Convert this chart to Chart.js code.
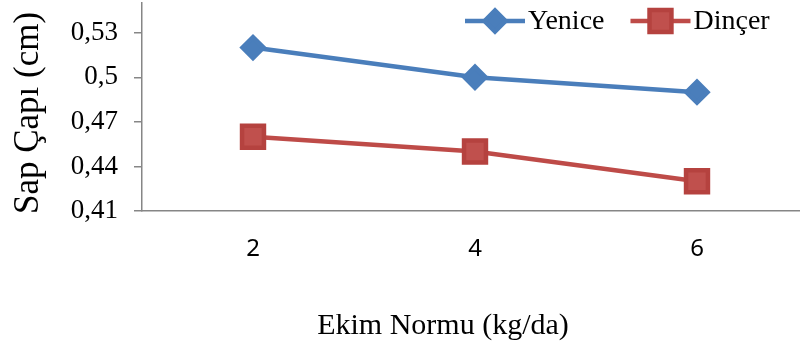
<!DOCTYPE html>
<html>
<head>
<meta charset="utf-8">
<script src="https://cdn.jsdelivr.net/npm/chart.js@4"></script>
<style>
  html, body { margin: 0; padding: 0; background: #fff; overflow: hidden; }
  #wrap { position: relative; width: 810px; height: 345px; }
</style>
</head>
<body>
<div id="wrap"><canvas id="sapChart"></canvas></div>
<script>
// Ekim normu (kg/da) categories
const ekimNormu = ['2', '4', '6'];
// Sap çapı (cm) per variety
const yenice = [0.52, 0.50, 0.49];
const dincer = [0.46, 0.45, 0.43];
// y axis tick values
const yTicks = [0.41, 0.44, 0.47, 0.50, 0.53];
const xTitle = 'Ekim Normu (kg/da)';
const yTitle = 'Sap Çapı (cm)';

const serif = '"Liberation Serif", "Times New Roman", serif';
const axisGray = '#868686';

// legend (line + marker + label) over the top right of the plot, plus axis titles
const extras = {
    id: 'extras',
    afterDraw(chart) {
        const ctx = chart.ctx;
        ctx.save();
        ctx.font = '28px ' + serif;
        ctx.textBaseline = 'middle';
        ctx.textAlign = 'left';
        let x = 465;
        const y = 21;
        chart.data.datasets.forEach(ds => {
            ctx.strokeStyle = ds.borderColor;
            ctx.lineWidth = ds.borderWidth;
            ctx.beginPath();
            ctx.moveTo(x, y);
            ctx.lineTo(x + 60, y);
            ctx.stroke();
            ctx.fillStyle = ds.pointBackgroundColor;
            ctx.strokeStyle = ds.pointBorderColor;
            Chart.helpers.drawPoint(ctx, {
                pointStyle: ds.pointStyle,
                radius: ds.pointRadius,
                borderWidth: 1,
                rotation: 0
            }, x + 30, y);
            ctx.fillStyle = '#000';
            ctx.fillText(ds.label, x + 63, y + 1);
            x += 63 + ctx.measureText(ds.label).width + 26;
        });

        // axis titles, placed like the original (not centred on the cropped plot)
        ctx.textAlign = 'center';
        ctx.font = '30px ' + serif;
        ctx.fillText(xTitle, 443, 326);

        ctx.font = '35px ' + serif;
        ctx.translate(29, 113);
        ctx.rotate(-Math.PI / 2);
        ctx.fillText(yTitle, 0, 0);
        ctx.restore();
    }
};

const ctx = document.getElementById('sapChart').getContext('2d');

const sapChart = new Chart(ctx, {
    type: 'line',
    data: {
        labels: ekimNormu,
        datasets: [
            {
                label: 'Yenice',
                data: yenice,
                borderColor: '#4A7EBB',
                borderWidth: 4.5,
                pointStyle: 'rectRot',
                pointRadius: 10.5,
                pointHoverRadius: 10.5,
                pointBackgroundColor: '#4A7EBB',
                pointBorderColor: '#4A7EBB',
                tension: 0
            },
            {
                label: 'Dinçer',
                data: dincer,
                borderColor: '#BE4B48',
                borderWidth: 4.5,
                pointStyle: 'rect',
                pointRadius: 15.5,
                pointHoverRadius: 15.5,
                pointBackgroundColor: '#C0504D',
                pointBorderColor: '#B5423F',
                tension: 0
            }
        ]
    },
    options: {
        responsive: true,
        maintainAspectRatio: false,
        animation: false,
        layout: {
            autoPadding: false, // big markers would otherwise push the plot in
            padding: { top: 3, right: 2, left: 0, bottom: 0 }
        },
        plugins: {
            legend: { display: false },
            tooltip: { enabled: false }
        },
        scales: {
            x: {
                offset: true,
                grid: { display: false, drawTicks: false },
                border: { display: true, color: axisGray, width: 1.5 },
                ticks: {
                    padding: 24,
                    color: '#000',
                    font: { family: '"Liberation Sans Narrow", "Noto Sans", sans-serif', size: 24 }
                },
                afterFit(scale) {
                    scale.height = 134;
                    scale.paddingLeft = 0;
                    scale.paddingRight = 0;
                }
            },
            y: {
                min: 0.41,
                max: 0.55,
                afterBuildTicks(scale) {
                    scale.ticks = yTicks.map(v => ({ value: v }));
                },
                grid: {
                    drawOnChartArea: false,
                    drawTicks: true,
                    tickLength: 8,
                    color: axisGray,
                    lineWidth: 1.5
                },
                border: { display: true, color: axisGray, width: 1.5 },
                ticks: {
                    padding: 16,
                    color: '#000',
                    font: { family: serif, size: 27 },
                    callback: value => String(Math.round(value * 100) / 100).replace('.', ',')
                },
                afterFit(scale) {
                    scale.width = 142;
                    scale.paddingTop = 0;
                    scale.paddingBottom = 0;
                }
            }
        }
    },
    plugins: [extras]
});
</script>
</body>
</html>
